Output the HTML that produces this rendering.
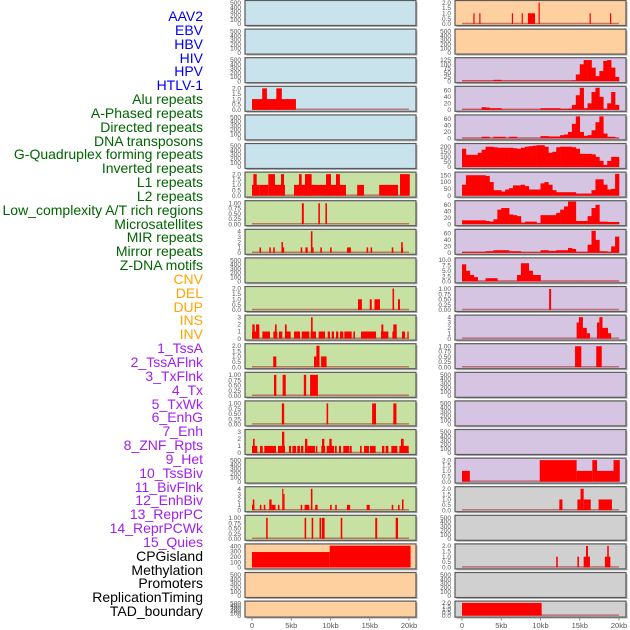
<!DOCTYPE html>
<html><head><meta charset="utf-8">
<style>
html,body{margin:0;padding:0;background:#fff;}
#wrap{position:relative;width:630px;height:630px;overflow:hidden;font-family:"Liberation Sans",sans-serif;}
.lbl{position:absolute;right:427px;font-size:14px;line-height:14px;white-space:nowrap;}
svg{position:absolute;left:0;top:0;}
</style></head>
<body>
<div id="wrap">
<div id="labels"></div>
<svg id="plot" width="630" height="630"></svg>
</div>
<script>
const trackNames = ["AAV2","EBV","HBV","HIV","HPV","HTLV-1","Alu repeats","A-Phased repeats","Directed repeats","DNA transposons","G-Quadruplex forming repeats","Inverted repeats","L1 repeats","L2 repeats","Low_complexity A/T rich regions","Microsatellites","MIR repeats","Mirror repeats","Z-DNA motifs","CNV","DEL","DUP","INS","INV","1_TssA","2_TssAFlnk","3_TxFlnk","4_Tx","5_TxWk","6_EnhG","7_Enh","8_ZNF_Rpts","9_Het","10_TssBiv","11_BivFlnk","12_EnhBiv","13_ReprPC","14_ReprPCWk","15_Quies","CPGisland","Methylation","Promoters","ReplicationTiming","TAD_boundary"];
const groupSizes = [6,13,5,15,5];
const groupColors = ["#0000ee","#006400","#ffa500","#a020f0","#000000"];
const xTicks = [0,5,10,15,20];
const xTickLabels = ["0","5kb","10kb","15kb","20kb"];

// segment data: [startKb, endKb, value]
const segL3 = [[0,5.6,1],[1.3,1.9,2],[3.1,3.8,2]];
const segL6 = [[0,0.93,1],[0.17,0.6,2],[0.93,2.08,1],[2.08,2.93,2],[2.93,4.2,1],[3.7,4.08,2],[5.35,11.97,1],[5.99,6.33,2],[6.75,7.6,2],[9.43,10.06,2],[10.7,11.2,2],[13.4,14.27,1],[16.2,18.6,1],[18.85,20.1,2]];
const segL7 = [[6.35,6.6,1],[8.45,8.65,1],[9.35,9.55,1]];
const segL8 = [[0.95,1.15,1],[2.2,2.4,1],[2.7,2.9,1],[3.75,3.95,2],[3.95,4.1,1],[6.2,6.4,1],[6.8,7.1,1],[7.5,7.7,4],[7.7,7.85,1],[8.7,8.9,1],[9.95,10.15,1],[12.1,12.6,1],[14.6,14.8,1],[15.1,15.3,1],[17.8,18.0,1],[19.0,19.25,1],[19.0,19.2,2]];
const segL10 = [[13.5,14.0,1],[15.0,15.25,1],[15.6,16.3,1],[17.9,18.1,2],[18.6,18.85,1]];
const segL11 = [[0,0.93,1],[0.04,0.34,2],[0.51,0.93,2],[1.32,2.29,1],[2.72,3.23,1],[2.93,3.14,2],[3.44,3.86,1],[4.2,4.93,1],[4.2,4.42,2],[5.35,6.12,1],[6.33,7.3,1],[7.47,8.15,1],[7.52,7.73,3],[8.49,9.3,1],[9.64,9.94,1],[10.15,10.45,1],[10.7,11.0,1],[11.21,11.63,1],[11.76,12.7,1],[12.91,13.12,1],[13.89,15.8,1],[16.43,17.37,1],[16.48,16.73,2],[17.88,18.43,1],[18.0,18.43,2],[19.11,19.49,1],[19.79,19.96,1]];
const segL12 = [[2.7,3.1,1],[7.9,8.2,1],[8.2,8.6,2],[8.8,9.5,1]];
const segL13 = [[2.8,3.1,1],[3.9,4.3,1],[6.6,6.9,1],[7.4,8.4,1]];
const segL14 = [[3.8,4.1,1],[9.5,9.7,1],[15.3,15.8,1],[18.0,18.4,1]];
const segL15 = [[0,0.68,1],[0.13,0.34,2],[1.02,1.36,1],[1.57,3.06,1],[3.31,4.2,1],[3.82,4.12,3],[4.71,4.97,1],[5.14,5.61,1],[5.77,6.12,1],[6.24,6.54,1],[6.75,7.05,2],[7.05,8.03,1],[8.15,8.32,1],[8.83,9.3,1],[8.92,9.21,2],[9.51,10.45,1],[9.85,10.15,2],[10.57,10.79,1],[11.08,11.34,1],[11.63,12.4,1],[12.48,12.7,1],[13.76,13.97,1],[14.27,14.9,1],[15.03,15.75,1],[16.56,16.86,1],[17.03,17.37,1],[17.75,18.51,1],[18.77,19.96,1],[18.98,19.32,2]];
const segL17 = [[0,0.3,1],[0.1,0.3,2],[1.0,1.2,1],[1.5,1.7,1],[2.2,2.5,2],[2.5,3.0,1],[3.3,3.5,1],[3.85,4.0,4],[4.0,4.15,3],[6.2,6.4,1],[6.7,7.3,1],[7.5,7.7,4],[8.05,8.35,1],[9.95,10.15,1],[10.6,10.8,1],[12.1,12.5,1],[14.6,15.0,1],[17.8,18.0,1],[18.6,18.8,1],[19.1,19.3,2]];
const segL18 = [[1.8,2.0,1],[6.7,6.9,1],[7.6,7.8,1],[8.6,8.8,1],[8.9,9.25,1],[11.3,11.5,1],[15.7,15.95,1],[18.3,18.6,1]];
const segL19 = [[0,9.9,290],[9.9,20.2,410]];
const segR0 = [[1.45,1.6,1],[2.2,2.35,1],[6.35,6.5,1],[7.6,7.75,1],[8.4,9.3,1],[9.75,9.9,2],[16.25,16.4,1],[18.85,19.0,1]];
const segR10 = [[11.1,11.35,1]];
const segR11 = [[14.6,14.9,3],[14.9,15.4,4],[15.4,15.9,2],[15.9,16.3,1],[17.2,17.5,3],[17.5,17.9,4],[17.9,18.6,2],[18.6,19.0,1]];
const segR12 = [[14.4,15.2,1],[17.1,17.8,1]];
const segR16 = [[0,1.0,1],[9.9,14.6,2],[14.6,16.6,1],[16.6,17.2,2],[17.2,19.3,1],[19.3,20.1,2]];
const segR17 = [[12.4,12.8,1],[14.7,15.1,1],[15.1,15.5,2],[15.5,16.4,1],[17.4,19.1,1]];
const segR19 = [[12.0,12.2,1],[14.7,14.9,1],[15.5,16.3,1],[15.8,16.05,2],[18.2,18.9,1],[18.5,18.7,2]];
const segR21 = [[0,10.15,2]];
// binned profiles (0.5 kb bins, 0-20 kb)
const binR2 = [3,3,3,3,3,3,3,3,8,8,3,3,3,3,3,3,3,3,3,3,3,3,3,3,3,3,3,3,5,40,100,125,125,80,30,60,120,125,80,25];
const binR3 = [1,1,1,1,1,8,7,5,5,5,1,1,1,1,1,1,1,1,1,1,5,5,5,5,5,3,3,4,15,45,68,5,20,55,68,40,3,20,55,15];
const binR4 = [1,1,1,1,1,5,5,1,5,5,5,1,5,5,1,1,1,1,1,1,7,7,6,6,6,10,12,20,45,68,20,8,10,25,50,68,15,5,5,2];
const binR5 = [180,120,120,120,140,170,200,200,195,190,190,190,190,185,180,190,200,205,210,215,215,200,140,150,195,200,200,200,195,180,130,130,130,125,100,60,20,60,100,100];
const binR6 = [80,150,150,150,150,150,145,100,40,40,30,45,55,75,75,80,70,45,45,45,90,100,80,40,25,25,25,25,25,15,15,15,15,40,120,120,80,45,50,160];
const binR7 = [12,12,12,12,12,12,10,8,15,45,50,50,30,28,25,5,8,8,8,3,28,28,28,28,35,45,55,70,70,10,10,10,25,50,60,8,8,7,7,7];
const binR8 = [3,3,3,3,3,3,5,5,8,8,8,8,5,5,5,2,2,2,2,2,8,8,6,6,8,8,8,15,12,3,3,3,25,68,40,5,5,3,20,50];
const binR9 = [8,5,3,2,0.2,0.2,1.5,1.5,1.5,0.2,0.2,0.2,0.2,0.2,3,8.5,8.5,5,3,3,0.2,0.2,0.2,0.2,0.2,0.2,0.2,0.2,0.2,0.2,0.2,0.2,0.2,0.2,0.2,0.2,0.2,0.2,0.2,0.2];

const scales = {
  e:{max:520,ticks:[0,100,200,300,400,500],lab:["0","100","200","300","400","500"]},
  s2:{max:2.05,ticks:[0,0.5,1,1.5,2],lab:["0.0","0.5","1.0","1.5","2.0"]},
  s1:{max:1.05,ticks:[0,0.25,0.5,0.75,1],lab:["0.00","0.25","0.50","0.75","1.00"]},
  s3:{max:3.1,ticks:[0,1,2,3],lab:["0","1","2","3"]},
  s4:{max:4.1,ticks:[0,1,2,3,4],lab:["0","1","2","3","4"]},
  s60:{max:68,ticks:[0,20,40,60],lab:["0","20","40","60"]},
  s125:{max:130,ticks:[0,25,50,75,100,125],lab:["0","25","50","75","100","125"]},
  s200:{max:217,ticks:[0,50,100,150,200],lab:["0","50","100","150","200"]},
  s150:{max:162,ticks:[0,50,100,150],lab:["0","50","100","150"]},
  s10:{max:10.3,ticks:[0,2.5,5,7.5,10],lab:["0.0","2.5","5.0","7.5","10.0"]},
  s400:{max:415,ticks:[0,100,200,300,400],lab:["0","100","200","300","400"]}
};
const BLUE="#c8e3eb",GREEN="#c7e1a3",PEACH="#fecf9f",PURP="#d5c5e2",GREY="#d0d0d0";
const panels = [
 [0,0,BLUE,'e',null],[0,1,BLUE,'e',null],[0,2,BLUE,'e',null],[0,3,BLUE,'s2',segL3],[0,4,BLUE,'e',null],[0,5,BLUE,'e',null],
 [0,6,GREEN,'s2',segL6],[0,7,GREEN,'s1',segL7],[0,8,GREEN,'s4',segL8],[0,9,GREEN,'e',null],[0,10,GREEN,'s2',segL10],
 [0,11,GREEN,'s3',segL11],[0,12,GREEN,'s2',segL12],[0,13,GREEN,'s1',segL13],[0,14,GREEN,'s1',segL14],[0,15,GREEN,'s3',segL15],
 [0,16,GREEN,'e',null],[0,17,GREEN,'s4',segL17],[0,18,GREEN,'s1',segL18],[0,19,PEACH,'s400',segL19],[0,20,PEACH,'e',null],[0,21,PEACH,'e',null],
 [1,0,PEACH,'s2',segR0],[1,1,PEACH,'e',null],[1,2,PURP,'s125',binR2],[1,3,PURP,'s60',binR3],[1,4,PURP,'s60',binR4],[1,5,PURP,'s200',binR5],
 [1,6,PURP,'s150',binR6],[1,7,PURP,'s60',binR7],[1,8,PURP,'s60',binR8],[1,9,PURP,'s10',binR9],[1,10,PURP,'s1',segR10],[1,11,PURP,'s4',segR11],
 [1,12,PURP,'s1',segR12],[1,13,PURP,'e',null],[1,14,PURP,'e',null],[1,15,PURP,'e',null],[1,16,PURP,'s2',segR16],[1,17,GREY,'s2',segR17],
 [1,18,GREY,'e',null],[1,19,GREY,'s2',segR19],[1,20,GREY,'e',null],[1,21,GREY,'s2',segR21]
];

// labels
const labDiv = document.getElementById('labels');
let gi=0, cnt=0;
trackNames.forEach((n,i)=>{
  const d=document.createElement('div');
  d.className='lbl';
  d.textContent=n;
  d.style.top=(9+13.84*i)+'px';
  d.style.color=groupColors[gi];
  
  
  labDiv.appendChild(d);
  cnt++; if(cnt>=groupSizes[gi]){gi++;cnt=0;}
});

const NS="http://www.w3.org/2000/svg";
const svg=document.getElementById('plot');
function mk(tag,attrs){const e=document.createElementNS(NS,tag);for(const k in attrs)e.setAttribute(k,attrs[k]);svg.appendChild(e);return e;}
const colLeft=[245,455];
const zeroX=[252,462];
const pxPerKb=7.85;
function xs(col,kb){return zeroX[col]+kb*pxPerKb;}
function rowTop(r){return 0.5+28.6*r;}

panels.forEach(p=>{
  const [col,row,bg,sk,data]=p;
  const top=rowTop(row), sc=scales[sk];
  const h = row===21 ? 16 : 25;
  const base=top+h-1.5;
  const span=h-3;
  const ys=v=>base-v/sc.max*span;
  const sh=mk('rect',{x:colLeft[col]+1.5,y:top+1.5,width:171,height:h,fill:'#b0b0b0'});
  
  
  const r=mk('rect',{x:colLeft[col],y:top,width:171,height:h,fill:bg,stroke:'#5a5a5a','stroke-width':1.2});
  
  
  sc.ticks.forEach((t,k)=>{
    const tx=mk('text',{x:colLeft[col]-4,y:ys(t)+2.2,'font-size':'6.5','text-anchor':'end',fill:'#555','font-family':'Liberation Sans, sans-serif'});
    tx.textContent=sc.lab[k];
    
    
  });
  if(!data) return;
  const bl=mk('line',{x1:xs(col,0),x2:xs(col,20),y1:base-0.5,y2:base-0.5,stroke:'rgba(170,50,50,0.6)','stroke-width':1.5});
  
  
  if(typeof data[0]==='number'){
    data.forEach((v,i)=>{
      const x0=xs(col,i*0.5), x1=xs(col,(i+1)*0.5);
      const b=mk('rect',{x:x0,y:ys(v),width:x1-x0+0.3,height:base-ys(v),fill:'#ff0000'});
      
      
    });
  } else {
    data.forEach(s=>{
      const x0=xs(col,s[0]), x1=xs(col,s[1]);
      const b=mk('rect',{x:x0,y:ys(s[2]),width:Math.max(1.2,x1-x0),height:base-ys(s[2]),fill:'#ff0000'});
      
      
    });
  }
});

[0,1].forEach(col=>{
  xTicks.forEach((t,i)=>{
    const x=xs(col,t);
    const tk=mk('line',{x1:x,x2:x,y1:618.5,y2:620.5,stroke:'#666','stroke-width':0.8});
    
    
    const tx=mk('text',{x:x,y:628,'font-size':'7.5','text-anchor':'middle',fill:'#555','font-family':'Liberation Sans, sans-serif'});
    tx.textContent=xTickLabels[i];
    
    
  });
});
</script>
</body></html>
